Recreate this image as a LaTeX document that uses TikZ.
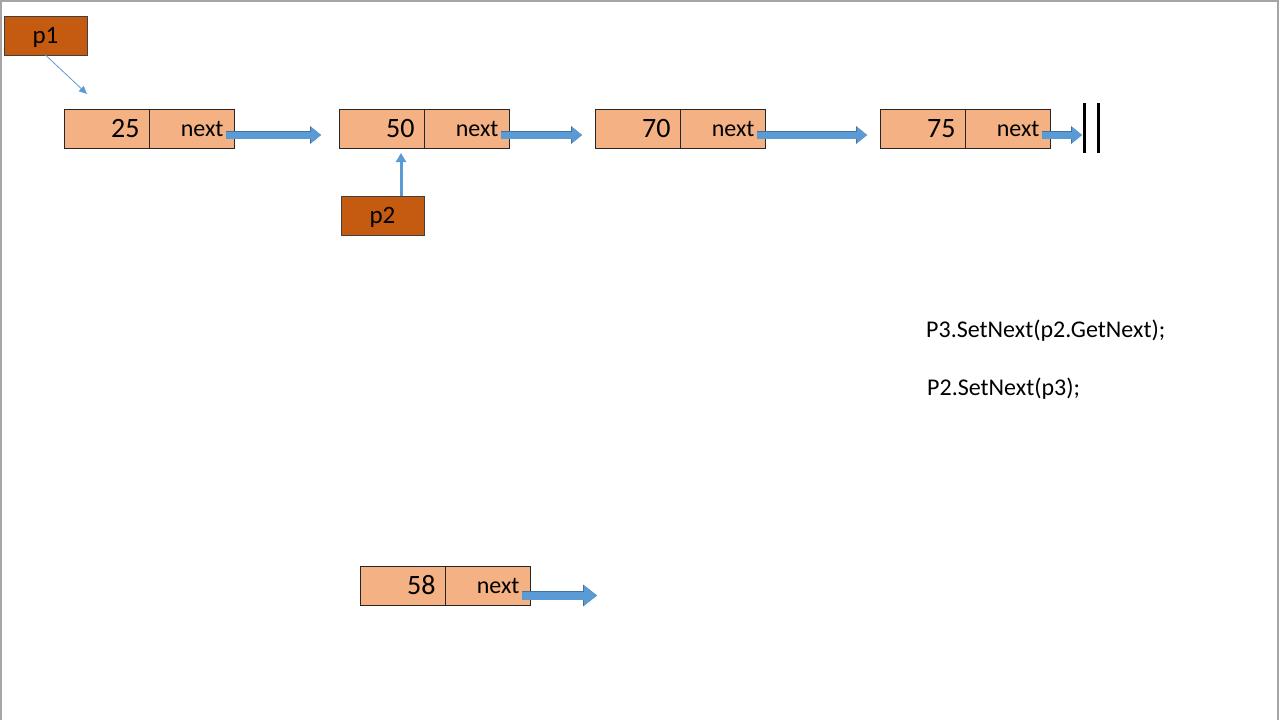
\documentclass[tikz,border=0pt]{standalone}
\usepackage{fontspec}
\setmainfont{Carlito}
\usetikzlibrary{arrows.meta,positioning}
\definecolor{cellfill}{RGB}{244,177,131}
\definecolor{ptrfill}{RGB}{197,90,17}
\definecolor{linkblue}{RGB}{91,155,213}
\definecolor{linkedge}{RGB}{65,113,156}
\definecolor{framegray}{RGB}{165,165,165}
\tikzset{
  cell/.style={draw=black!85,fill=cellfill,minimum width=85pt,minimum height=39pt,text width=64pt,
    align=right,inner xsep=10.5pt,inner ysep=0pt,outer sep=0pt,font=\fontsize{24}{28}\selectfont},
  valcell/.style={cell,text width=66pt,inner xsep=9.5pt,font=\fontsize{28}{32}\selectfont},
  ptrbox/.style={draw=black!75,fill=ptrfill,minimum width=83pt,minimum height=39pt,outer sep=0pt,
    inner sep=0pt,text depth=0pt,font=\fontsize{25}{29}\selectfont},
  link/.style={line width=7pt,draw=linkblue,-{Triangle[length=10pt,width=16pt,line width=0pt]},
    preaction={draw=linkedge,line width=8.2pt,-{Triangle[length=10.8pt,width=17.6pt,line width=0pt]}}},
  widelink/.style={line width=8pt,draw=linkblue,-{Triangle[length=13pt,width=20pt,line width=0pt]},
    preaction={draw=linkedge,line width=9.2pt,-{Triangle[length=13.8pt,width=21.6pt,line width=0pt]}}},
  code/.style={anchor=base west,inner sep=0pt,font=\fontsize{24}{28}\selectfont}
}
\begin{document}
\begin{tikzpicture}[x=1pt,y=-1pt]
\useasboundingbox (0,0) rectangle (1280,720);
\draw[framegray,line width=2pt] (1,720) |- (1278,1) -- (1278,720);
\foreach \v/\x in {25/106.5,50/381.5,70/637.5,75/922.5}{
  \node[valcell] (val\v) at (\x,128.5) {\v};
  \node[cell,right=0pt of val\v] (nxt\v) {next};
}
\node[valcell] (val58) at (402.5,585.5) {58};
\node[cell,right=0pt of val58] (nxt58) {next};
\foreach \a/\b/\g in {25/50/18,50/70/13,70/75/13}
  \draw[link] ([xshift=-8.5pt,yshift=-6.5pt]nxt\a.east) -- ([xshift=-\g pt,yshift=-6.5pt]val\b.west);
\coordinate (null) at (1082,135);
\draw[link] ([xshift=-8pt,yshift=-6.5pt]nxt75.east) -- (null);
\draw[line width=3pt] (1084,103) -- (1084,153) (1098,103) -- (1098,153);
\coordinate (end58) at (597,595.5);
\draw[widelink] ([xshift=-8pt,yshift=-10pt]nxt58.east) -- (end58);
\node[ptrbox] (p1) at (45.5,35.5) {p1};
\coordinate (p1tip) at (87,94);
\draw[linkblue,line width=0.8pt,-{Triangle[length=8pt,width=7pt]}] (p1.south) -- (p1tip);
\node[ptrbox] (p2) at (382.5,215.5) {p2};
\draw[linkblue,line width=3pt,-{Triangle[length=9pt,width=10pt]}] ([xshift=18.5pt]p2.north)
  -- ([xshift=19.5pt,yshift=-5pt]val50.south);
\node[code] (setp3) at (926,337) {P3.SetNext(p2.GetNext);};
\node[code] (setp2) at (927,395) {P2.SetNext(p3);};
\end{tikzpicture}
\end{document}
